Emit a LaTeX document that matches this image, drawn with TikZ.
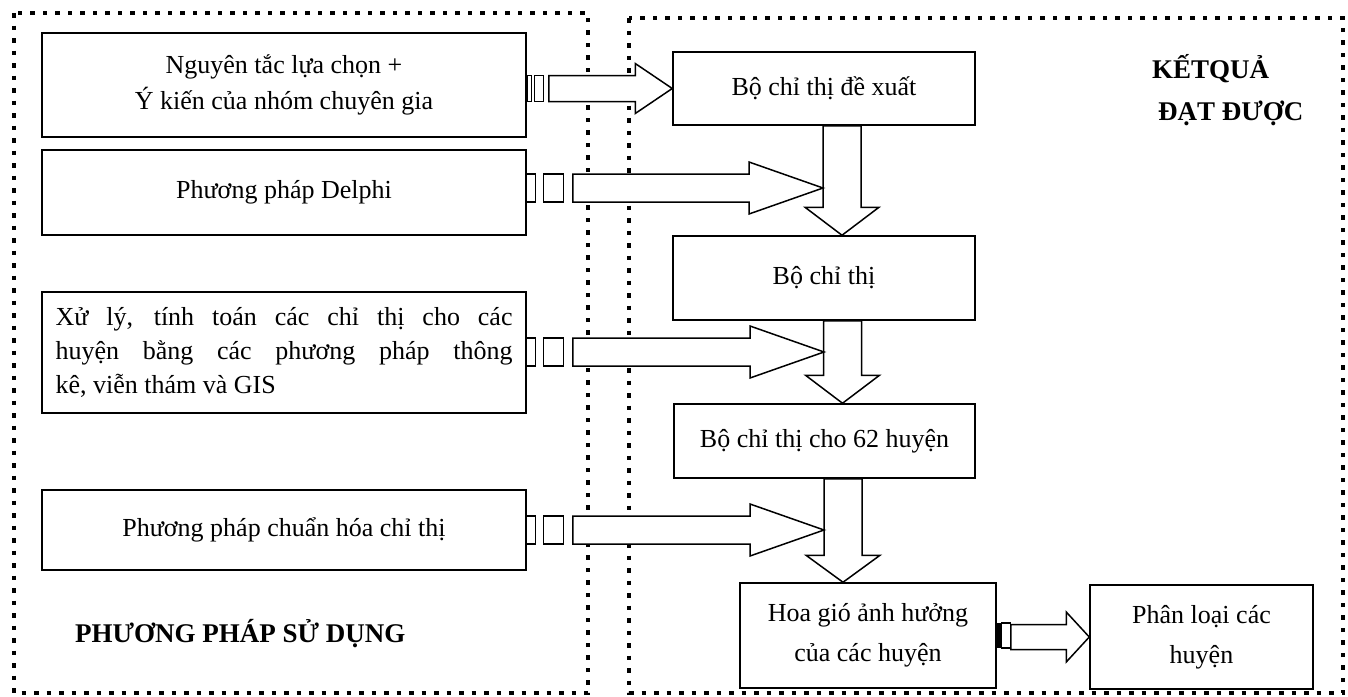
\documentclass[tikz,border=0pt]{standalone}
\usepackage{fontspec}
\setmainfont{Liberation Serif}
\usetikzlibrary{calc,positioning}
\tikzset{
  frame/.style={line width=4.5pt, dash pattern=on 4.5pt off 8pt},
  box/.style={draw, fill=white, line width=1.5pt, inner sep=4pt, align=center,
    font=\fontsize{26}{36}\selectfont},
  title/.style={anchor=base west, inner sep=0pt, font=\fontsize{27}{30}\selectfont\bfseries},
  blockarrow/.style={draw, fill=white, line width=1.5pt, line join=miter},
  tailbox/.style={draw, fill=white, line width=1.2pt},
}
% horizontal block arrow: tail, tip, shaft half, head half, head length
\newcommand{\hblock}[5]{%
  \draw[blockarrow] let \p1=(#1), \p2=(#2) in
    (\x1,\y2+#3) -- (\x2-#5,\y2+#3) -- (\x2-#5,\y2+#4) -- (\x2,\y2)
    -- (\x2-#5,\y2-#4) -- (\x2-#5,\y2-#3) -- (\x1,\y2-#3) -- cycle;}
% vertical block arrow pointing down
\newcommand{\vblock}[5]{%
  \draw[blockarrow] let \p1=(#1), \p2=(#2) in
    (\x2-#3,\y1) -- (\x2-#3,\y2+#5) -- (\x2-#4,\y2+#5) -- (\x2,\y2)
    -- (\x2+#4,\y2+#5) -- (\x2+#3,\y2+#5) -- (\x2+#3,\y1) -- cycle;}

\begin{document}
\begin{tikzpicture}[x=1pt, y=-1pt]
  \useasboundingbox (0,0) rectangle (1348,696);

  % Frames
  \draw[frame] (14,13) rectangle (588,693);
  \draw[frame] (629,18) rectangle (1343,693);

  % Methods
  \node[box, minimum width=484pt, minimum height=104pt] (L1) at (284,85)
    {Nguyên tắc lựa chọn +\\Ý kiến của nhóm chuyên gia};
  \node[box, minimum width=484pt, minimum height=85pt] (L2) at (284,192.5)
    {Phương pháp Delphi};
  \node[box, minimum width=484pt, minimum height=121pt, align=left, font=\fontsize{26}{34}\selectfont] (L3) at (284,352.5)
    {\makebox[457pt][s]{Xử lý, tính toán các chỉ thị cho các}\\
     \makebox[457pt][s]{huyện bằng các phương pháp thông}\\
     kê, viễn thám và GIS};
  \node[box, minimum width=484pt, minimum height=80pt] (L4) at (284,530)
    {Phương pháp chuẩn hóa chỉ thị};
  \node[title] (ppsd) at (75,642) {PHƯƠNG PHÁP SỬ DỤNG};

  % Results
  \node[box, minimum width=302pt, minimum height=73pt] (R1) at (824,88.5) {Bộ chỉ thị đề xuất};
  \node[box, minimum width=302pt, minimum height=84pt] (R2) at (824,278) {Bộ chỉ thị};
  \node[box, minimum width=301pt, minimum height=74pt] (R3) at (824.5,441) {Bộ chỉ thị cho 62 huyện};
  \node[box, minimum width=256pt, minimum height=105pt, font=\fontsize{26}{40}\selectfont] (R4) at (868,635.5)
    {Hoa gió ảnh hưởng\\của các huyện};
  \node[box, minimum width=223pt, minimum height=104pt, font=\fontsize{26}{40}\selectfont] (R5) at (1201.5,637)
    {Phân loại các\\huyện};
  \node[title] (kq1) at (1152,78) {KẾTQUẢ};
  \node[title] (kq2) at (1158,120) {ĐẠT ĐƯỢC};

  % Vertical arrows
  \coordinate (va) at ($(R1.south)+(18,0)$);
  \coordinate (vb) at ($(R2.north)+(18,0)$);
  \coordinate (vc) at ($(R2.south)+(18,0)$);
  \coordinate (vd) at ($(R3.north)+(18,0)$);
  \coordinate (ve) at ($(R3.south)+(18,0)$);
  \coordinate (vf) at ($(R4.north)+(-25,0)$);
  \vblock{va}{vb}{19pt}{37pt}{28pt}
  \vblock{vc}{vd}{19pt}{37pt}{28pt}
  \vblock{ve}{vf}{19pt}{37pt}{27pt}

  % Arrow into the proposed set
  \draw[tailbox] ($(L1.east|-R1.west)+(1,-13)$) rectangle ++(4,26);
  \draw[tailbox] ($(L1.east|-R1.west)+(8,-13)$) rectangle ++(9,26);
  \hblock{$(L1.east|-R1.west)+(22,0)$}{R1.west}{13pt}{25pt}{37pt}

  % Arrows into the vertical flow
  \coordinate (t2) at (823,188);
  \coordinate (t3) at (824,352);
  \coordinate (t4) at (824,530);
  \foreach \src/\tip in {L2/t2, L3/t3, L4/t4} {
    \draw[tailbox] ($(\src.east|-\tip)+(0,-14)$) rectangle ++(9,28);
    \draw[tailbox] ($(\src.east|-\tip)+(17,-14)$) rectangle ++(20,28);
    \hblock{$(\src.east|-\tip)+(46,0)$}{\tip}{14pt}{26pt}{74pt}
  }

  % Arrow to the classification
  \fill ($(R4.east)+(0,-12.5)$) rectangle ++(5,25);
  \draw[tailbox] ($(R4.east)+(5,-12.5)$) rectangle ++(9,25);
  \hblock{$(R4.east)+(14,0)$}{R5.west}{12.5pt}{25pt}{23pt}
\end{tikzpicture}
\end{document}
